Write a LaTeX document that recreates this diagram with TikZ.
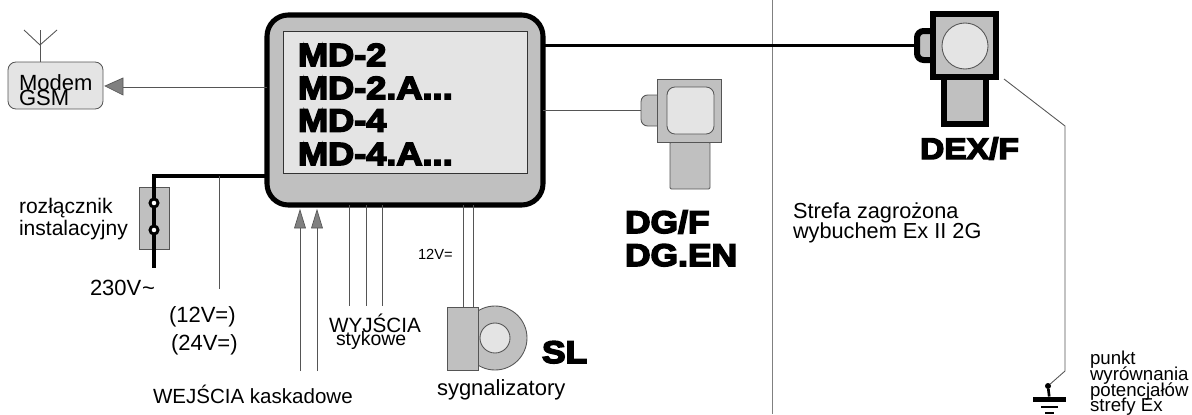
\documentclass[tikz,border=0pt]{standalone}
\usepackage{fontspec}
\setmainfont{Liberation Sans}
\newfontfamily\heavy[BoldFeatures={FakeBold=5,FakeStretch=1.13}]{Liberation Sans}
\usetikzlibrary{calc}
\definecolor{bodyg}{HTML}{C0C0C0}
\definecolor{lightg}{HTML}{E4E4E4}
\definecolor{wireg}{HTML}{555555}
\definecolor{tipg}{HTML}{808080}
\tikzset{
  x=0.75pt,y=-0.75pt,
  sized/.style 2 args={minimum width=#1*0.75pt,minimum height=#2*0.75pt,inner sep=0pt,outer sep=0pt},
  thinw/.style={draw=wireg,line width=0.65pt},
  thickw/.style={draw=black,line width=2.3pt},
  outl/.style={draw=wireg,line width=0.65pt},
  heavyo/.style={draw=black,line width=4.5pt},
  lbl/.style={inner sep=0pt,outer sep=0pt,anchor=base west,font=\fontsize{16.5}{16.5}\selectfont},
  big/.style={lbl,font=\fontsize{23.5}{23.5}\selectfont\heavy\bfseries},
  bigm/.style={lbl,font=\fontsize{24}{24}\selectfont\heavy\bfseries},
  tip/.style={fill=tipg,draw=wireg,line width=0.5pt},
  ct/.style={circle,inner sep=0pt,outer sep=0pt,minimum size=6pt,draw=black,line width=2.2pt,fill=white}
}
\begin{document}
\begin{tikzpicture}
\useasboundingbox (0,0) rectangle (1192,414);
% zone separator
\coordinate (sepT) at (772,0); \coordinate (sepB) at (772,414);
\draw[draw=gray,line width=0.75pt] (sepT) -- (sepB);

% main unit
\node[sized={276}{190},fill=bodyg,draw=black,line width=3.8pt,rounded corners=16pt] (main) at (405,110) {};
\node[sized={244}{142},fill=lightg,draw=black!80,line width=0.7pt] (disp) at (405,102) {};
\node[bigm] (t1) at (298,66) {MD-2};
\node[bigm] (t2) at (298,99) {MD-2.A...};
\node[bigm] (t3) at (298,131.5) {MD-4};
\node[bigm] (t4) at (298,165) {MD-4.A...};

% modem
\node[sized={95}{47},fill=lightg,outl,rounded corners=6pt] (modem) at (55.5,85.5) {};
\node[lbl] (modem1) at (19,90) {Modem};
\node[lbl] (modem2) at (19,105.5) {GSM};
\coordinate (antJ) at (40,45); \coordinate (antT) at (40,30);
\coordinate (antL) at (24,30); \coordinate (antR) at (57,30);
\draw[thinw] (modem.north -| antJ) -- (antT);
\draw[thinw] (antL) -- (antJ) -- (antR);
\coordinate (mTip) at (105,86);
\coordinate (mBase) at (122,87.5);
\draw[thinw] (main.west |- mBase) -- (mBase);
\filldraw[tip] (mTip) -- (123,78) -- (123,95) -- cycle;

% power
\node[sized={30}{62},fill=bodyg,outl] (sw) at (154,218) {};
\coordinate (pwT) at (154,176); \coordinate (pwB) at (154,268);
\draw[thickw,line join=miter] (main.west |- pwT) -- (pwT) -- (pwB);
\node[ct] (c1) at (154,203) {};
\node[ct] (c2) at (154,230) {};
\node[lbl,font=\fontsize{15.8}{15.8}\selectfont] (roz) at (19,213) {rozłącznik};
\node[lbl,font=\fontsize{15.8}{15.8}\selectfont] (ins) at (19,235) {instalacyjny};
\node[lbl] (v230) at (90,295) {230V\kern0.5pt\textasciitilde};
\coordinate (dcT) at (219,176); \coordinate (dcB) at (219,289);
\draw[thinw] (dcT) -- (dcB);
\node[lbl] (v12) at (169,322) {(12V=)};
\node[lbl] (v24) at (171,350) {(24V=)};

% cascade inputs
\coordinate (i1B) at (300,371); \coordinate (i1T) at (300,228);
\coordinate (i2B) at (317,371); \coordinate (i2T) at (317,228);
\draw[thinw] (i1B) -- (i1T);
\draw[thinw] (i2B) -- (i2T);
\filldraw[tip] (300,210) -- (294.5,228) -- (305.5,228) -- cycle;
\filldraw[tip] (317,210) -- (311.5,228) -- (322.5,228) -- cycle;
\node[lbl,font=\fontsize{15.4}{15.4}\selectfont] (wej) at (153,403) {WEJŚCIA kaskadowe};

% contact outputs
\coordinate (o1) at (349,306); \coordinate (o2) at (366,306); \coordinate (o3) at (382,306);
\draw[thinw] (main.south -| o1) -- (o1);
\draw[thinw] (main.south -| o2) -- (o2);
\draw[thinw] (main.south -| o3) -- (o3);
\node[lbl,font=\fontsize{15.5}{15.5}\selectfont] (wyj) at (329,332) {WYJŚCIA};
\node[lbl,font=\fontsize{14.6}{14.6}\selectfont] (sty) at (336,345) {stykowe};

% siren
\node[circle,sized={64}{64},fill=bodyg,outl] (sout) at (495,338) {};
\node[circle,sized={30}{30},fill=lightg,outl] (sin) at (495,338) {};
\node[sized={31}{63},fill=bodyg,outl] (srect) at (462.5,338.5) {};
\coordinate (s1) at (463,307); \coordinate (s2) at (473,307);
\draw[thinw] (main.south -| s1) -- (s1);
\draw[thinw] (main.south -| s2) -- (s2);
\node[lbl,font=\fontsize{11}{11}\selectfont] (v12b) at (418,259) {12V=};
\node[big] (sl) at (542,363) {SL};
\node[lbl] (syg) at (437,395) {sygnalizatory};

% DG sensor
\node[sized={40}{47},fill=bodyg,outl,rounded corners=1pt] (dgl) at (690,165.5) {};
\node[sized={24}{31},fill=bodyg,outl,rounded corners=5pt] (dgb) at (653,110.5) {};
\node[sized={64}{63},fill=bodyg,outl] (dgs) at (689,110.5) {};
\node[sized={47}{47},fill=lightg,outl,rounded corners=6pt] (dgi) at (690.5,110.5) {};
\draw[draw=wireg,line width=0.9pt] (main.east |- dgb.west) -- (dgb.west);
\node[big] (dg1) at (625,233) {DG/F};
\node[big] (dg2) at (625,266) {DG.EN};

% DEX sensor
\node[sized={42}{47},fill=bodyg,heavyo] (dxl) at (965,100.5) {};
\node[sized={24}{29},fill=bodyg,heavyo,rounded corners=5pt] (dxb) at (929,45.5) {};
\node[sized={63}{63},fill=bodyg,heavyo] (dxs) at (964.5,45.5) {};
\node[circle,sized={46}{46},fill=lightg,outl] (dxi) at (965,46) {};
\draw[thickw] (main.east |- dxb.west) -- (dxb.west);
\node[lbl,font=\fontsize{22.3}{22.3}\selectfont\heavy\bfseries] (dx) at (920,159) {DEX/F};

% equipotential
\coordinate (g0) at (1004,79); \coordinate (g1) at (1065,126); \coordinate (g2) at (1065,371);
\node[circle,fill=black,minimum size=4.5pt,inner sep=0pt,outer sep=0pt] (gd) at (1048,386) {};
\node[fill=black,sized={33}{5}] (gb1) at (1049.5,399) {};
\node[fill=black,sized={17}{2.5}] (gb2) at (1049.5,407) {};
\node[fill=black,sized={9}{2}] (gb3) at (1049.5,413) {};
\draw[thinw] (g0) -- (g1) -- (g2) -- (gd);
\draw[draw=black,line width=2pt] (gd) -- (gb1);
\node[lbl,font=\fontsize{14}{14}\selectfont] (p1) at (1090,364) {punkt};
\node[lbl,font=\fontsize{14}{14}\selectfont] (p2) at (1090,380) {wyrównania};
\node[lbl,font=\fontsize{14}{14}\selectfont] (p3) at (1090,396) {potencjałów};
\node[lbl,font=\fontsize{14}{14}\selectfont] (p4) at (1090,411) {strefy Ex};

\node[lbl,font=\fontsize{16.3}{16.3}\selectfont] (st1) at (793,218) {Strefa zagrożona};
\node[lbl,font=\fontsize{16.3}{16.3}\selectfont] (st2) at (793,238) {wybuchem Ex II 2G};
\end{tikzpicture}
\end{document}
